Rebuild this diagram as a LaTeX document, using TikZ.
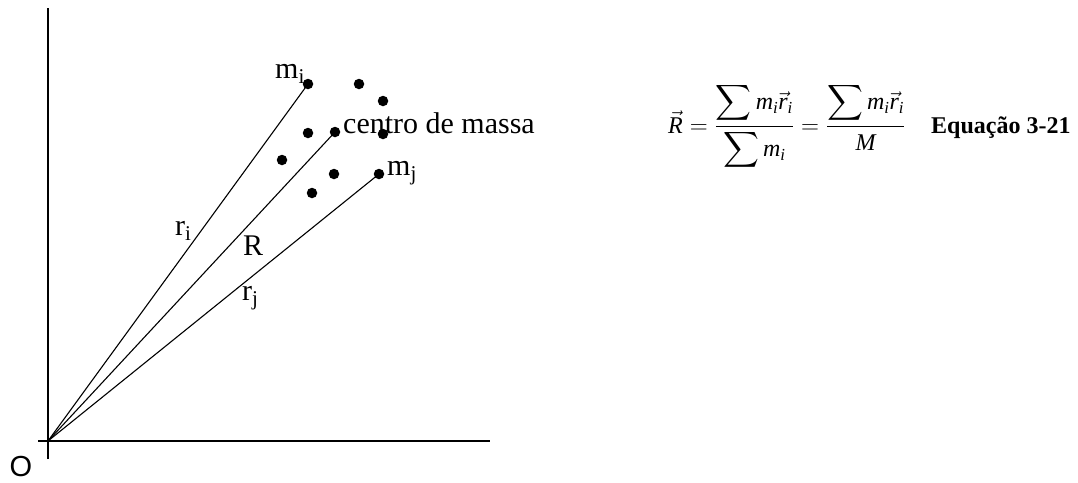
\documentclass[tikz,border=0pt]{standalone}
\usepackage{amsmath}
\usepackage{fontspec}
\setmainfont{Liberation Serif}
\newfontfamily\osans{Liberation Sans}
\newcommand\mv[1]{\text{\itshape #1}}
\begin{document}
\begin{tikzpicture}[x=1pt,y=-1pt,
  axis/.style={line width=2pt},
  ray/.style={line width=1.1pt},
  massdot/.style={circle,fill=black,inner sep=0pt,minimum size=10.5pt},
  lbl/.style={anchor=base west,inner sep=0pt,font=\fontsize{30}{36}\selectfont}
]
\useasboundingbox (0,0) rectangle (1078,482);
% axes
\coordinate (o) at (48,441);
\coordinate (ytop) at (48,8);
\coordinate (ybot) at (48,459);
\coordinate (xleft) at (38,441);
\coordinate (xright) at (490,441);
\draw[axis] (ybot) -- (ytop);
\draw[axis] (xleft) -- (xright);
\node[inner sep=0pt,font=\osans\fontsize{29}{32}\selectfont] (Olbl) at (21,467) {O};
% masses
\node[massdot] (mi) at (308,84) {};
\node[massdot] (cm) at (335,132) {};
\node[massdot] (mj) at (379,174) {};
\node[massdot] (d1) at (359,84) {};
\node[massdot] (d2) at (383,101) {};
\node[massdot] (d3) at (308,133) {};
\node[massdot] (d4) at (383,134) {};
\node[massdot] (d5) at (282,160) {};
\node[massdot] (d6) at (334,174) {};
\node[massdot] (d7) at (312,193) {};
% rays
\draw[ray] (o) -- (mi.center);
\draw[ray] (o) -- (cm.center);
\draw[ray] (o) -- (mj.center);
% labels
\node[lbl] (lmi) at (275,78) {m\textsubscript{i}};
\node[lbl] (lcm) at (343,133) {centro de massa};
\node[lbl] (lmj) at (387,175) {m\textsubscript{j}};
\node[lbl] (lri) at (175,235) {r\textsubscript{i}};
\node[lbl] (lR) at (243,255) {R};
\node[lbl] (lrj) at (242,300) {r\textsubscript{j}};
% equation
\node[anchor=base west,inner sep=0pt,font=\fontsize{24}{28}\selectfont] (eq) at (668,133)
  {$\displaystyle \vec{\mv{R}}=\frac{\displaystyle\sum \mv{m}_{\mv{i}}\vec{\mv{r}}_{\mv{i}}}{\displaystyle\sum \mv{m}_{\mv{i}}}=\frac{\displaystyle\sum \mv{m}_{\mv{i}}\vec{\mv{r}}_{\mv{i}}}{\mv{M}}$};
\node[anchor=base west,inner sep=0pt,font=\bfseries\fontsize{24}{28}\selectfont] (eqn) at (931,133) {Equação 3-21};
\end{tikzpicture}
\end{document}
